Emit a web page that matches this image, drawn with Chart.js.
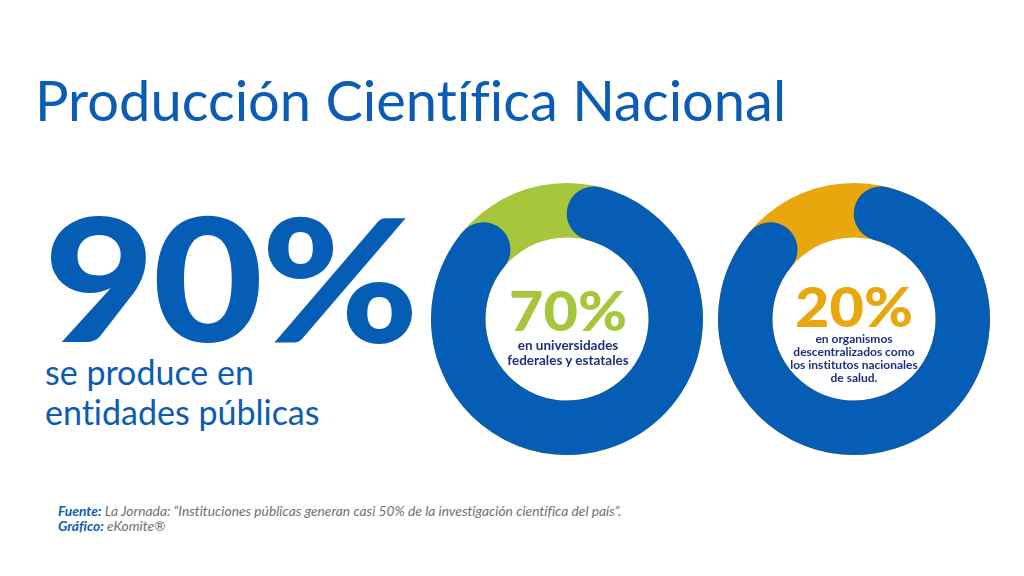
<!DOCTYPE html>
<html>
<head>
<meta charset="utf-8">
<script src="https://cdn.jsdelivr.net/npm/chart.js@4"></script>
<style>
  body { margin: 0; width: 1024px; height: 576px; background: #fff; position: relative; overflow: hidden; font-family: Lato, "Noto Sans", sans-serif; font-variant-ligatures: none; }
  .abs { position: absolute; white-space: nowrap; }
  #title { left: 35px; top: 66px; font-size: 56px; color: #0a5cb5; font-weight: 400; }
  #big { left: 44px; top: 190px; font-size: 172px; font-weight: 900; color: #065db5; letter-spacing: -2px; line-height: 1; transform: scaleX(1.11); transform-origin: left top; }
  #bigText { left: 45px; top: 352px; font-size: 34px; color: #0a5cb5; line-height: 40px; }
  .ring { position: absolute; width: 272px; height: 272px; }
  .center { position: absolute; text-align: center; width: 180px; }
  .pct { font-size: 56px; font-weight: 900; line-height: 1; transform: scaleX(1.06); }
  .desc { font-weight: 700; color: #1f2f7d; }
  #c1 .desc { font-size: 13.5px; line-height: 15px; margin-top: 0px; }
  #c2 .desc { font-size: 12px; line-height: 13px; margin-top: -2px; }
  #foot { left: 58px; top: 503px; font-size: 13.8px; color: #707070; font-style: italic; line-height: 15px; }
  #foot b { color: #0a5cb5; }
</style>
</head>
<body>
<div id="title" class="abs">Producción Científica Nacional</div>
<div id="big" class="abs"></div>
<div id="bigText" class="abs">se produce en<br>entidades públicas</div>

<div class="ring" style="left:431px; top:183px;"><canvas id="ring1"></canvas></div>
<div class="ring" style="left:718px; top:183px;"><canvas id="ring2"></canvas></div>

<div class="center abs" id="c1" style="left:478px; top:282px;"></div>
<div class="center abs" id="c2" style="left:764px; top:278px;"></div>

<div id="foot" class="abs"><b>Fuente:</b> La Jornada: “Instituciones públicas generan casi 50% de la investigación científica del país”.<br><b>Gráfico:</b> eKomite®</div>

<script>
// datos
const publicShare = 90;               // % producido en entidades públicas (arco azul)
const ringLabels = ['Universidades federales y estatales', 'Organismos descentralizados'];
const ringPercents = [70, 20];
const ringColors = ['#a8c63c', '#e8a70c'];
const ringTexts = [
    ['en universidades', 'federales y estatales'],
    ['en organismos', 'descentralizados como', 'los institutos nacionales', 'de salud.']
];
const mainBlue = '#065db5';

document.getElementById('big').textContent = publicShare + '%';

// pista de color debajo del arco azul
const trackPlugin = {
    id: 'track',
    beforeDatasetsDraw(chart, args, opts) {
        const arc = chart.getDatasetMeta(0).data[0];
        if (!arc) return;
        const ctx = chart.ctx;
        ctx.save();
        ctx.beginPath();
        ctx.arc(arc.x, arc.y, arc.outerRadius, 0, Math.PI * 2);
        ctx.arc(arc.x, arc.y, arc.innerRadius, 0, Math.PI * 2, true);
        ctx.fillStyle = opts.color;
        ctx.fill();
        ctx.restore();
    }
};

function makeRing(id, index) {
    new Chart(document.getElementById(id), {
        type: 'doughnut',
        data: {
            labels: ['Entidades públicas', ringLabels[index]],
            datasets: [{
                data: [publicShare, 100 - publicShare],
                backgroundColor: [mainBlue, 'rgba(0,0,0,0)'],
                borderWidth: 0,
                borderRadius: [40, 0],
                hoverOffset: 0
            }]
        },
        options: {
            responsive: true,
            maintainAspectRatio: false,
            animation: false,
            cutout: '60%',
            layout: { padding: 0 },
            plugins: {
                legend: { display: false },
                tooltip: { enabled: false },
                track: { color: ringColors[index] }
            }
        },
        plugins: [trackPlugin]
    });

    const box = document.getElementById('c' + (index + 1));
    box.innerHTML = '<div class="pct" style="color:' + ringColors[index] + '">' + ringPercents[index] + '%</div>' +
        '<div class="desc">' + ringTexts[index].join('<br>') + '</div>';
}

makeRing('ring1', 0);
makeRing('ring2', 1);
</script>
</body>
</html>
